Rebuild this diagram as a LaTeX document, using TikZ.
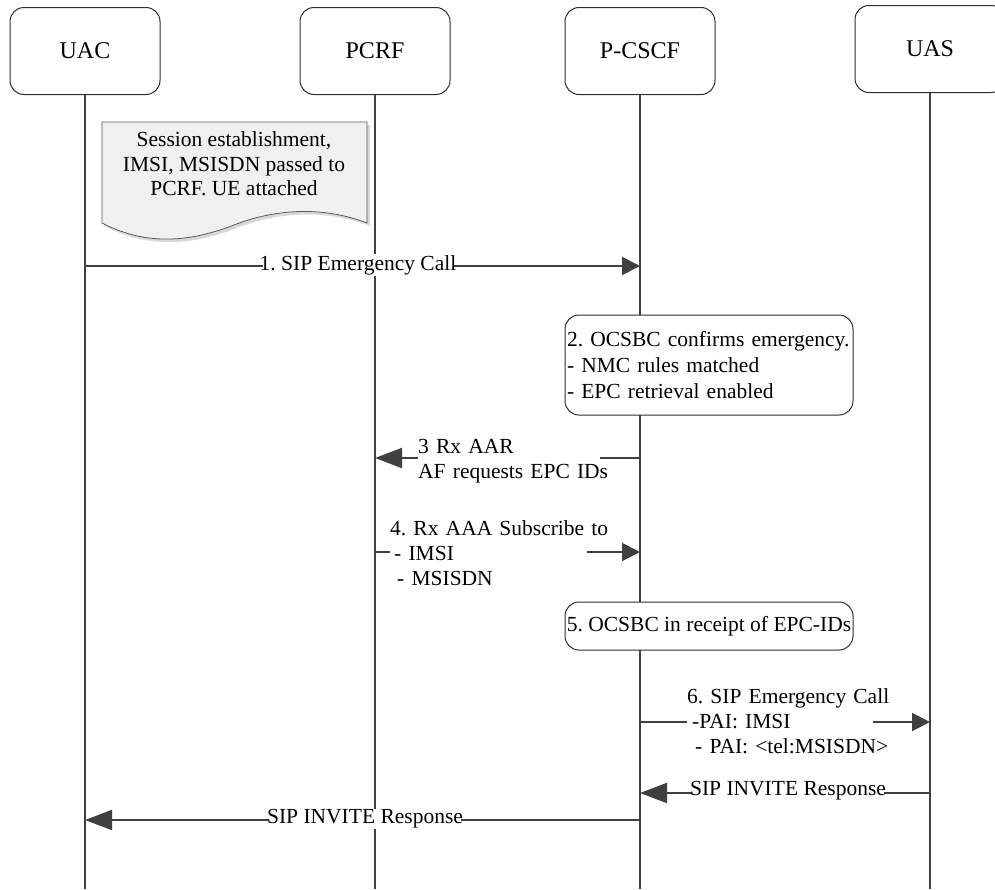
\documentclass[tikz,border=0pt]{standalone}
\usepackage{fontspec}
\setmainfont{Liberation Serif}
\frenchspacing
\usetikzlibrary{arrows.meta}
\definecolor{ln}{HTML}{404040}
\definecolor{bx}{HTML}{2E2E2E}
\definecolor{notefill}{HTML}{F0F0F0}
\definecolor{noteshadow}{HTML}{D8D8D8}
\begin{document}
\begin{tikzpicture}[x=1pt,y=-1pt,
  lifebox/.style={draw=bx, line width=1pt, rounded corners=14pt, minimum width=150pt, minimum height=87pt, fill=white, font=\fontsize{24}{28}\selectfont},
  life/.style={draw=ln, line width=2pt},
  msgr/.style={draw=ln, line width=2pt, -{Triangle[length=18pt,width=18pt]}},
  msgl/.style={draw=ln, line width=2pt, -{Triangle[length=27pt,width=20pt]}},
  lbl/.style={fill=white, inner sep=0pt, font=\fontsize{21.5}{25}\selectfont},
  notetext/.style={inner sep=0pt, align=center, font=\fontsize{21.5}{24.5}\selectfont},
  stepbox/.style={draw=bx, line width=1pt, rounded corners=14pt, fill=white, font=\fontsize{21.5}{26}\selectfont}
]
\useasboundingbox (0,0) rectangle (995,889);
\clip (0,0) rectangle (995,889);

% participant boxes
\node[lifebox] (uac) at (85,51) {UAC};
\node[lifebox] (pcrf) at (375,51) {PCRF};
\node[lifebox] (pcscf) at (640,51) {P-CSCF};
\node[lifebox] (uas) at (930,49) {UAS};

% lifeline ends
\coordinate (uacE) at (85,889);
\coordinate (pcrfE) at (375,889);
\coordinate (pcscfE) at (640,889);
\coordinate (uasE) at (930,889);
\draw[life] (uac) -- (uacE);
\draw[life] (pcrf) -- (pcrfE);
\draw[life] (pcscf) -- (pcscfE);
\draw[life] (uas) -- (uasE);

% note (document shape)
\fill[noteshadow] (104,125) -- (370,125) -- (370,226) .. controls (323,208) and (275,213) .. (237,228) .. controls (198,243) and (153,251) .. (104,226) -- cycle;
\draw[draw=gray!70!black, line width=0.8pt, fill=notefill] (102,122) -- (367,122) -- (367,223) .. controls (320,205) and (272,210) .. (234,225) .. controls (195,240) and (150,248) .. (102,223) -- cycle;
\node[notetext] (note) at (234,164) {Session establishment,\\ IMSI, MSISDN passed to\\PCRF. UE attached};

% message end points
\coordinate (m1a) at (85,266);   \coordinate (m1b) at (640,266);
\coordinate (m3a) at (640,458);  \coordinate (m3b) at (375,458);
\coordinate (m4a) at (375,552);  \coordinate (m4b) at (640,552);
\coordinate (m6a) at (640,722);  \coordinate (m6b) at (930,722);
\coordinate (m7a) at (930,793);  \coordinate (m7b) at (640,793);
\coordinate (m8a) at (640,820);  \coordinate (m8b) at (85,820);

\draw[msgr] (m1a) -- (m1b);
\draw[msgl] (m3a) -- (m3b);
\draw[msgr] (m4a) -- (m4b);
\draw[msgr] (m6a) -- (m6b);
\draw[msgl] (m7a) -- (m7b);
\draw[msgl] (m8a) -- (m8b);

% labels
\node[lbl, inner xsep=-3pt, inner ysep=1pt] (l1) at (358,265) {1. SIP Emergency Call};
\node[lbl, anchor=west, text width=182pt, align=left] (l3) at (418,461) {\mbox{3 Rx AAR}\\\mbox{AF requests EPC IDs}};
\node[lbl, anchor=west, text width=197pt, align=left] (l4) at (390,553) {\mbox{4. Rx AAA Subscribe to}\\\mbox{\hspace*{4pt}- IMSI}\\\mbox{\hspace*{7pt}- MSISDN}};
\node[lbl, anchor=west, text width=186pt, align=left] (l6) at (687,721) {\mbox{6. SIP Emergency Call}\\\mbox{\hspace*{5pt}-PAI: IMSI}\\\mbox{\hspace*{8pt}- PAI: <tel:MSISDN>}};
\node[lbl, inner xsep=-2pt, inner ysep=1pt] (l7) at (788,791) {SIP INVITE Response};
\node[lbl, inner xsep=-2pt, inner ysep=1pt] (l8) at (365,819) {SIP INVITE Response};

% step boxes on P-CSCF
\node[stepbox, minimum width=288pt, minimum height=100pt, text width=284pt, inner xsep=2pt, align=left] (s2) at (709,365) {\mbox{2. OCSBC confirms emergency.}\\\mbox{- NMC rules matched}\\\mbox{- EPC retrieval enabled}};
\node[stepbox, minimum width=288pt, minimum height=48pt, inner sep=1pt, align=center] (s5) at (709,626) {\mbox{5. OCSBC in receipt of EPC-IDs}};
\end{tikzpicture}
\end{document}
